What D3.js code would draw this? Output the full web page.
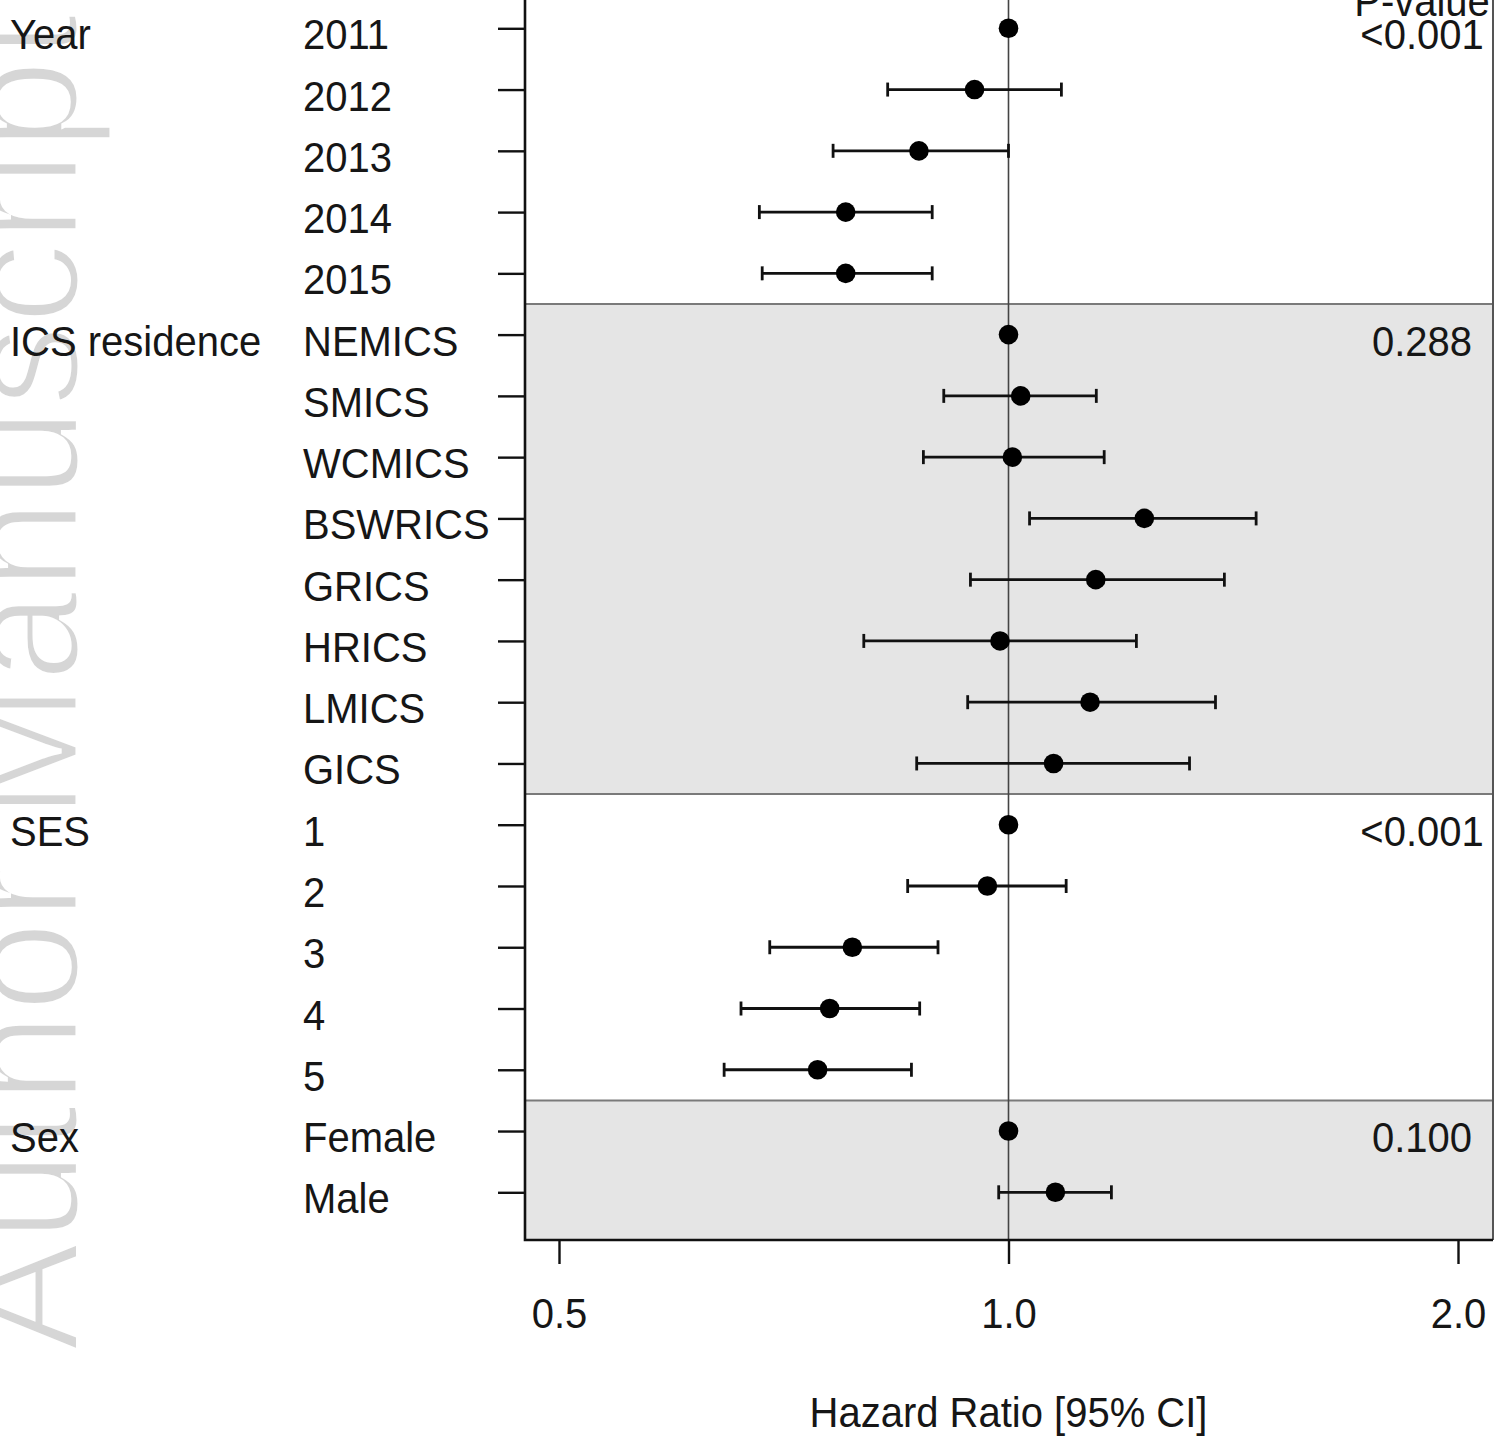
<!DOCTYPE html>
<html>
<head>
<meta charset="utf-8">
<script src="https://cdn.jsdelivr.net/npm/d3@7"></script>
<style>
  body { margin: 0; background: #fff; }
  text { font-family: "Liberation Sans", Arial, sans-serif; }
</style>
</head>
<body>
<div id="chart"></div>
<script>
// rows of the forest plot, top to bottom
var groupNames = ["Year", "ICS residence", "SES", "Sex"];
var groupPvals = ["<0.001", "0.288", "<0.001", "0.100"];
var groupOfRow = [0, 0, 0, 0, 0, 1, 1, 1, 1, 1, 1, 1, 1, 2, 2, 2, 2, 2, 3, 3];
var rowLabels = ["2011", "2012", "2013", "2014", "2015",
                 "NEMICS", "SMICS", "WCMICS", "BSWRICS", "GRICS", "HRICS", "LMICS", "GICS",
                 "1", "2", "3", "4", "5",
                 "Female", "Male"];
var hr    = [1, 0.949, 0.871, 0.778, 0.778,
             1, 1.019, 1.006, 1.233, 1.144, 0.987, 1.134, 1.072,
             1, 0.968, 0.786, 0.759, 0.745,
             1, 1.075];
var lower = [null, 0.830, 0.763, 0.681, 0.684,
             null, 0.905, 0.877, 1.033, 0.943, 0.800, 0.939, 0.868,
             null, 0.856, 0.692, 0.662, 0.645,
             null, 0.985];
var upper = [null, 1.085, 1.000, 0.889, 0.889,
             null, 1.145, 1.159, 1.465, 1.395, 1.218, 1.376, 1.322,
             null, 1.093, 0.897, 0.872, 0.861,
             null, 1.172];
var xTicks = [0.5, 1, 2];

var WIDTH = 1495, HEIGHT = 1439;
var PANEL_L = 525, PANEL_R = 1493;
var STRETCH = 1.08; // the picture's text is a bit taller than wide

var svg = d3.select("#chart").append("svg")
    .attr("width", WIDTH)
    .attr("height", HEIGHT);

svg.append("rect").attr("width", WIDTH).attr("height", HEIGHT).attr("fill", "#fff");

var x = d3.scaleLog().domain([0.5, 2]).range([559, 1458]);
var y = d3.scaleLinear().domain([0, 19]).range([28.3, 1192.3]);

var panelTop = y(-0.55), panelBottom = 1240;

function label(g, str, tx, ty, anchor) {
    return g.append("text")
        .attr("transform", "translate(" + tx + "," + ty + ") scale(1," + STRETCH + ")")
        .attr("text-anchor", anchor || "start")
        .attr("font-size", 40)
        .attr("fill", "#161616")
        .text(str);
}

// watermark (white stroke on top thins the glyphs)
svg.append("text")
    .attr("transform", "translate(78,1352) rotate(-90)")
    .attr("font-size", 165)
    .attr("fill", "#d6d6d6")
    .attr("stroke", "#fff")
    .attr("stroke-width", 5)
    .text("Author Manuscript");

// group extents
var groups = groupNames.map(function (name, gi) {
    var rows = d3.range(rowLabels.length).filter(function (i) { return groupOfRow[i] === gi; });
    return { name: name, p: groupPvals[gi], first: rows[0], last: rows[rows.length - 1], idx: gi };
});

var panel = svg.append("g").attr("id", "panel");

panel.append("rect")
    .attr("x", PANEL_L).attr("y", panelTop)
    .attr("width", PANEL_R - PANEL_L).attr("height", panelBottom - panelTop)
    .attr("fill", "#fff");

// shaded bands for every second group
panel.selectAll("rect.band")
    .data(groups.filter(function (g) { return g.idx % 2 === 1; }))
    .enter().append("rect")
    .attr("class", "band")
    .attr("x", PANEL_L)
    .attr("y", function (g) { return y(g.first - 0.5); })
    .attr("width", PANEL_R - PANEL_L)
    .attr("height", function (g) {
        var bottom = g.idx === groups.length - 1 ? panelBottom : y(g.last + 0.5);
        return bottom - y(g.first - 0.5);
    })
    .attr("fill", "#e5e5e5");

// separators between groups
panel.selectAll("line.sep")
    .data(groups.slice(1))
    .enter().append("line")
    .attr("class", "sep")
    .attr("x1", PANEL_L).attr("x2", PANEL_R)
    .attr("y1", function (g) { return y(g.first - 0.5); })
    .attr("y2", function (g) { return y(g.first - 0.5); })
    .attr("stroke", "#7a7a7a")
    .attr("stroke-width", 2);

// reference line at HR = 1
panel.append("line")
    .attr("x1", x(1)).attr("x2", x(1))
    .attr("y1", panelTop).attr("y2", panelBottom)
    .attr("stroke", "#444")
    .attr("stroke-width", 1.6);

// confidence intervals
var ci = panel.selectAll("g.ci")
    .data(d3.range(rowLabels.length).filter(function (i) { return lower[i] !== null; }))
    .enter().append("g")
    .attr("class", "ci")
    .attr("stroke", "#111")
    .attr("stroke-width", 2.8);

ci.append("line")
    .attr("x1", function (i) { return x(lower[i]); })
    .attr("x2", function (i) { return x(upper[i]); })
    .attr("y1", function (i) { return y(i); })
    .attr("y2", function (i) { return y(i); });
ci.append("line")
    .attr("x1", function (i) { return x(lower[i]); })
    .attr("x2", function (i) { return x(lower[i]); })
    .attr("y1", function (i) { return y(i) - 7; })
    .attr("y2", function (i) { return y(i) + 7; });
ci.append("line")
    .attr("x1", function (i) { return x(upper[i]); })
    .attr("x2", function (i) { return x(upper[i]); })
    .attr("y1", function (i) { return y(i) - 7; })
    .attr("y2", function (i) { return y(i) + 7; });

// point estimates
panel.selectAll("circle")
    .data(hr)
    .enter().append("circle")
    .attr("cx", function (d) { return x(d); })
    .attr("cy", function (d, i) { return y(i); })
    .attr("r", 9.8)
    .attr("fill", "#000");

// frame: left and bottom black, right grey
panel.append("line")
    .attr("x1", PANEL_R).attr("x2", PANEL_R)
    .attr("y1", panelTop).attr("y2", panelBottom)
    .attr("stroke", "#555").attr("stroke-width", 2);
panel.append("path")
    .attr("d", "M" + PANEL_L + "," + panelTop + "V" + panelBottom + "H" + PANEL_R)
    .attr("fill", "none")
    .attr("stroke", "#111")
    .attr("stroke-width", 2.6);

// y ticks
var yAxis = svg.append("g")
    .attr("transform", "translate(" + PANEL_L + ",0)")
    .call(d3.axisLeft(y).tickValues(d3.range(rowLabels.length)).tickSize(27).tickFormat(""));
yAxis.select(".domain").remove();
yAxis.selectAll("line").attr("stroke", "#111").attr("stroke-width", 2.4);

// x axis
var xAxis = svg.append("g")
    .attr("transform", "translate(0," + panelBottom + ")")
    .call(d3.axisBottom(x).tickValues(xTicks).tickSize(24).tickFormat(d3.format(".1f")));
xAxis.select(".domain").remove();
xAxis.selectAll("line").attr("stroke", "#111").attr("stroke-width", 2.4);
xAxis.selectAll("text")
    .attr("font-size", 40)
    .attr("fill", "#161616")
    .attr("dy", 0)
    .attr("y", 88 / STRETCH)
    .attr("transform", "scale(1," + STRETCH + ")");

label(svg, "Hazard Ratio [95% CI]", x(1), 1427, "middle");

// row and group labels
rowLabels.forEach(function (t, i) { label(svg, t, 303, y(i) + 21); });
groups.forEach(function (g) {
    label(svg, g.name, 10, y(g.first) + 21);
    label(svg, g.p, 1422, y(g.first) + 21, "middle");
});
label(svg, "P-value", 1422, 16, "middle");
</script>
</body>
</html>
